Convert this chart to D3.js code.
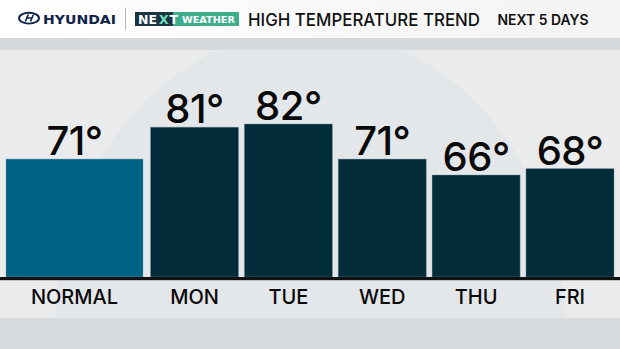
<!DOCTYPE html>
<html>
<head>
<meta charset="utf-8">
<script src="https://cdn.jsdelivr.net/npm/d3@7"></script>
<style>
  html, body { margin: 0; padding: 0; background: #e4e7e9; }
  svg { display: block; }
</style>
</head>
<body>
<div id="chart"></div>
<script>
// chart data
var categories = ["NORMAL", "MON", "TUE", "WED", "THU", "FRI"];
var highs = [71, 81, 82, 71, 66, 68];
var days = categories.slice(1);
var title = "HIGH TEMPERATURE TREND";
var subtitle = "NEXT 5 DAYS";

var width = 620, height = 349;
var baseY = 277;

var svg = d3.select("#chart").append("svg")
  .attr("width", width)
  .attr("height", height);

var defs = svg.append("defs");
var hdr = defs.append("linearGradient").attr("id", "hdr").attr("x1", 0).attr("x2", 1);
hdr.append("stop").attr("offset", 0).attr("stop-color", "#ffffff");
hdr.append("stop").attr("offset", 1).attr("stop-color", "#f3f3f3");

// background
svg.append("rect").attr("width", width).attr("height", height).attr("fill", "#e9ebec");
svg.append("ellipse")
  .attr("cx", 310).attr("cy", 330).attr("rx", 255).attr("ry", 300)
  .attr("fill", "#e4e7e9");
svg.append("rect").attr("y", 318).attr("width", width).attr("height", 31)
  .attr("fill", "#d5d9db").attr("opacity", 0.9);
svg.append("rect").attr("y", 38).attr("width", width).attr("height", 12).attr("fill", "#d6d9db");

// header band
svg.append("rect").attr("width", width).attr("height", 38).attr("fill", "url(#hdr)");

// hyundai logo
var logo = svg.append("g").attr("fill", "#0d2248");
logo.append("ellipse").attr("cx", 29).attr("cy", 18.2).attr("rx", 10).attr("ry", 5.4)
  .attr("fill", "none").attr("stroke", "#0d2248").attr("stroke-width", 1.9);
logo.append("path")
  .attr("d", "M24.5,21.5 L27.3,14.6 L29,14.6 L28,17.2 L31.5,17.2 L32.5,14.6 L34.2,14.6 L31.4,21.5 L29.7,21.5 L30.8,18.8 L27.3,18.8 L26.2,21.5 Z");
logo.append("text")
  .attr("x", 43).attr("y", 23.5)
  .attr("font-family", "DejaVu Sans")
  .attr("font-weight", "bold")
  .attr("font-size", 13)
  .attr("textLength", 73).attr("lengthAdjust", "spacingAndGlyphs")
  .text("HYUNDAI");
svg.append("line").attr("x1", 125.5).attr("x2", 125.5).attr("y1", 8).attr("y2", 30)
  .attr("stroke", "#b4b6b8").attr("stroke-width", 1);

// next weather badge
var badge = svg.append("g");
badge.append("rect").attr("x", 135).attr("y", 12).attr("width", 38).attr("height", 14).attr("fill", "#1c3442");
badge.append("rect").attr("x", 173).attr("y", 12).attr("width", 66).attr("height", 14).attr("fill", "#3cae8c");
badge.append("text").attr("x", 138).attr("y", 23.8)
  .attr("font-family", "DejaVu Sans").attr("font-weight", "bold").attr("font-size", 12.5)
  .attr("fill", "#ffffff").text("NE");
badge.append("text").attr("x", 159).attr("y", 23.8)
  .attr("font-family", "DejaVu Sans").attr("font-weight", "bold").attr("font-size", 12.5)
  .attr("fill", "#6fe0bd").text("X");
badge.append("text").attr("x", 169.5).attr("y", 23.8)
  .attr("font-family", "DejaVu Sans").attr("font-weight", "bold").attr("font-size", 12.5)
  .attr("fill", "#ffffff").text("T");
badge.append("text").attr("x", 182).attr("y", 22.6)
  .attr("font-family", "DejaVu Sans").attr("font-weight", "bold").attr("font-size", 8.5)
  .attr("textLength", 53).attr("lengthAdjust", "spacingAndGlyphs")
  .attr("fill", "#ffffff").text("WEATHER");

// titles
svg.append("text").attr("x", 248).attr("y", 25.5)
  .attr("font-family", "Inter").attr("font-weight", 500).attr("font-size", 17.5)
  .attr("textLength", 232).attr("lengthAdjust", "spacingAndGlyphs")
  .attr("fill", "#111").text(title);
svg.append("text").attr("x", 497.5).attr("y", 25)
  .attr("font-family", "Inter").attr("font-weight", 600).attr("font-size", 14.5)
  .attr("textLength", 91).attr("lengthAdjust", "spacingAndGlyphs")
  .attr("fill", "#111").text(subtitle);

// scales
var y = d3.scaleLinear().domain([34, 82]).range([baseY, 124]);
var xNormal = d3.scaleBand().domain(["NORMAL"]).range([6, 143]);
var xDays = d3.scaleBand().domain(days).range([150.5, 614]).paddingInner(0.062);

function bx(c) { return c === "NORMAL" ? xNormal(c) : xDays(c); }
function bw(c) { return c === "NORMAL" ? xNormal.bandwidth() : xDays.bandwidth(); }

var rows = categories.map(function(c, i) { return { cat: c, value: highs[i] }; });

var g = svg.append("g");

g.selectAll(".bar")
  .data(rows)
  .enter().append("rect")
  .attr("class", "bar")
  .attr("x", function(d) { return bx(d.cat); })
  .attr("width", function(d) { return bw(d.cat); })
  .attr("y", function(d) { return y(d.value); })
  .attr("height", function(d) { return baseY - y(d.value); })
  .attr("fill", function(d) { return d.cat === "NORMAL" ? "#006285" : "#032c3b"; })
  .attr("stroke", "#7f98a2")
  .attr("stroke-opacity", 0.5)
  .attr("stroke-width", 0.8);

// value labels
g.selectAll(".val")
  .data(rows)
  .enter().append("text")
  .attr("class", "val")
  .attr("x", function(d) { return bx(d.cat) + bw(d.cat) / 2; })
  .attr("y", function(d) { return y(d.value) - 4; })
  .attr("text-anchor", "middle")
  .attr("font-family", "Inter")
  .attr("font-weight", 500)
  .attr("font-size", 40)
  .attr("letter-spacing", -0.5)
  .attr("fill", "#0a0a0a")
  .text(function(d) { return d.value + "°"; });

// baseline
svg.append("rect").attr("x", 0).attr("y", baseY).attr("width", width).attr("height", 3.2).attr("fill", "#111");

// category labels
g.selectAll(".cat")
  .data(rows)
  .enter().append("text")
  .attr("class", "cat")
  .attr("x", function(d) { return bx(d.cat) + bw(d.cat) / 2; })
  .attr("y", 304)
  .attr("text-anchor", "middle")
  .attr("font-family", "Inter")
  .attr("font-weight", 500)
  .attr("font-size", 20)
  .attr("fill", "#0a0a0a")
  .text(function(d) { return d.cat; });
</script>
</body>
</html>
